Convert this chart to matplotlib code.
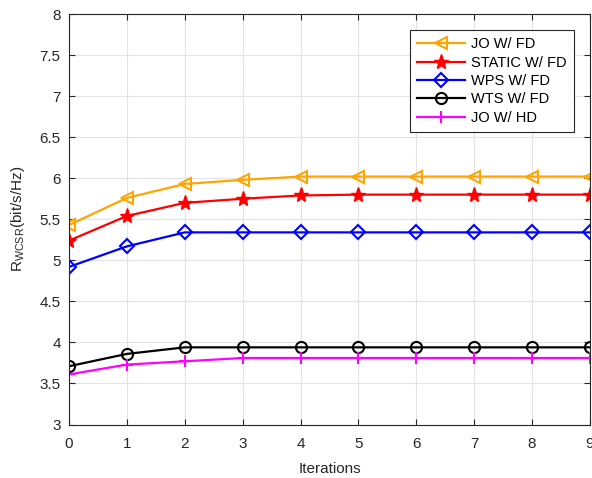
import matplotlib
matplotlib.use("Agg")
import matplotlib.pyplot as plt

plt.rcParams['font.family'] = ['Liberation Sans', 'DejaVu Sans']
plt.rcParams['mathtext.fontset'] = 'custom'
plt.rcParams['mathtext.rm'] = 'Liberation Sans'

iterations = list(range(10))
jo_fd = [5.43, 5.76, 5.93, 5.98, 6.02, 6.02, 6.02, 6.02, 6.02, 6.02]
static_fd = [5.24, 5.54, 5.70, 5.75, 5.79, 5.80, 5.80, 5.80, 5.80, 5.80]
wps_fd = [4.92, 5.17, 5.34, 5.34, 5.34, 5.34, 5.34, 5.34, 5.34, 5.34]
wts_fd = [3.71, 3.86, 3.94, 3.94, 3.94, 3.94, 3.94, 3.94, 3.94, 3.94]
jo_hd = [3.61, 3.73, 3.77, 3.81, 3.81, 3.81, 3.81, 3.81, 3.81, 3.81]
labels = ['JO W/ FD', 'STATIC W/ FD', 'WPS W/ FD', 'WTS W/ FD', 'JO W/ HD']
yticks = [3, 3.5, 4, 4.5, 5, 5.5, 6, 6.5, 7, 7.5, 8]

fig = plt.figure(figsize=(5.92, 4.78), dpi=100)
ax = fig.add_axes([0.1166, 0.1119, 0.88, 0.8588])

lw = 1.6
ax.plot(iterations, jo_fd, color='#FFA500', marker='<', mfc='none', ms=8, mew=1.5, lw=lw, label=labels[0])
ax.plot(iterations, static_fd, color='#FF0000', marker='*', ms=11, lw=lw, label=labels[1])
ax.plot(iterations, wps_fd, color='#0000FF', marker='D', mfc='none', ms=7, mew=1.5, lw=lw, label=labels[2])
ax.plot(iterations, wts_fd, color='black', marker='o', mfc='none', ms=8, mew=1.5, lw=lw, label=labels[3])
ax.plot(iterations, jo_hd, color='#FF00FF', marker='+', ms=9, mew=1.5, lw=lw, label=labels[4])

ax.set_xlim(0, 9)
ax.set_ylim(3, 8)
ax.set_xticks(iterations)
ax.set_yticks(yticks)
ax.set_yticklabels([f'{v:g}' for v in yticks])
ax.grid(True, color='#e3e3e3', lw=0.8)
ax.set_axisbelow(True)
for s in ax.spines.values():
    s.set_color('#262626')
    s.set_linewidth(0.8)
ax.tick_params(direction='in', top=True, right=True, colors='#262626', labelsize=11, length=4)
ax.tick_params(axis='x', pad=9)
ax.tick_params(axis='y', pad=6)
ax.set_xlabel('Iterations', fontsize=11, color='#262626', labelpad=8)
ax.set_ylabel(r'R$_{\mathrm{WCSR}}$(bit/s/Hz)', fontsize=11, color='#262626', labelpad=9)

leg = ax.legend(loc='upper right', bbox_to_anchor=(0.969, 0.961), fancybox=False,
                framealpha=1, edgecolor='#262626', fontsize=10.5, handlelength=3.3,
                handletextpad=0.4, borderpad=0.5, labelspacing=0.3, borderaxespad=0)
leg.get_frame().set_linewidth(0.8)

fig.savefig('out.png', dpi=100)
